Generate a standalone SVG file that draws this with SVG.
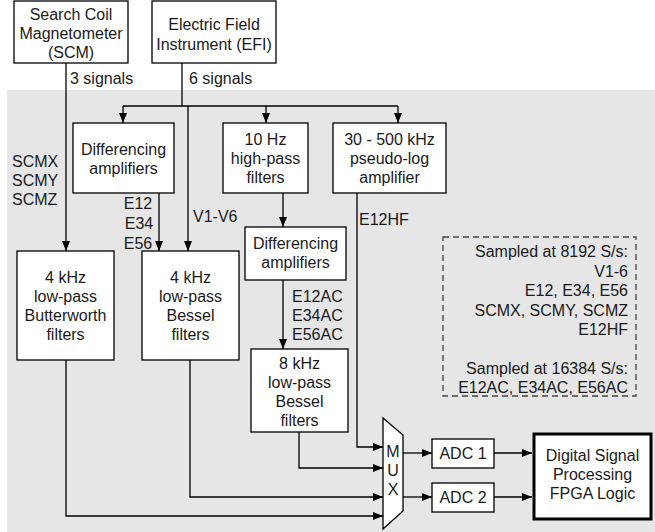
<svg xmlns="http://www.w3.org/2000/svg" width="655" height="532" viewBox="0 0 655 532">
<defs>
<marker id="ah" markerWidth="10" markerHeight="8" refX="10" refY="4" orient="auto" markerUnits="userSpaceOnUse">
<path d="M0,0 L10,4 L0,8 Z" fill="#000"/>
</marker>
<style>
.box{fill:#fff;stroke:#000;stroke-width:1.3}
.t{font-family:"Liberation Sans",Arial,sans-serif;font-size:16px;fill:#1a1a1a}
.c{text-anchor:middle}
.r{text-anchor:end}
.ln{fill:none;stroke:#000;stroke-width:1.3}
.ar{fill:none;stroke:#000;stroke-width:1.3;marker-end:url(#ah)}
</style>
</defs>
<rect x="7" y="90" width="648" height="442" fill="#e6e6e6"/>

<g id="connectors">
<path class="ar" d="M66,63 V251"/>
<path class="ln" d="M182,63 V106"/>
<path class="ln" d="M123,106 H398"/>
<path class="ar" d="M123,106 V123"/>
<path class="ar" d="M266,106 V123"/>
<path class="ar" d="M398,106 V123"/>
<path class="ar" d="M188,106 V251"/>
<path class="ar" d="M159,193 V251"/>
<path class="ar" d="M283,193 V227"/>
<path class="ar" d="M283,280 V349"/>
<path class="ar" d="M357,193 V447 H383"/>
<path class="ar" d="M299,432 V468 H383"/>
<path class="ar" d="M190,360 V497 H383"/>
<path class="ar" d="M66,360 V516 H383"/>
<path class="ar" d="M403,453 H432"/>
<path class="ar" d="M403,497 H432"/>
<path class="ar" d="M494,453 H532"/>
<path class="ar" d="M494,497 H532"/>
<text class="t" x="70" y="84">3 signals</text>
<text class="t" x="189" y="84">6 signals</text>
<text class="t" x="12" y="167">SCMX</text>
<text class="t" x="12" y="186">SCMY</text>
<text class="t" x="12" y="205">SCMZ</text>
<text class="t c" x="138" y="209">E12</text>
<text class="t c" x="139" y="229">E34</text>
<text class="t c" x="138" y="249">E56</text>
<text class="t" x="193" y="222">V1-V6</text>
<text class="t" x="359" y="225">E12HF</text>
<text class="t" x="292" y="302">E12AC</text>
<text class="t" x="292" y="321">E34AC</text>
<text class="t" x="292" y="340">E56AC</text>
</g>

<g id="scm">
<rect class="box" x="14" y="1" width="114" height="62"/>
<text class="t c" x="71" y="20">Search Coil</text>
<text class="t c" x="71" y="39">Magnetometer</text>
<text class="t c" x="71" y="58">(SCM)</text>
</g>
<g id="efi">
<rect class="box" x="152" y="1" width="124" height="62"/>
<text class="t c" x="214" y="30">Electric Field</text>
<text class="t c" x="214" y="50">Instrument (EFI)</text>
</g>
<g id="diff1">
<rect class="box" x="73" y="123" width="101" height="70"/>
<text class="t c" x="123.5" y="155">Differencing</text>
<text class="t c" x="123.5" y="174">amplifiers</text>
</g>
<g id="hp10">
<rect class="box" x="223" y="123" width="85" height="70"/>
<text class="t c" x="265.5" y="145">10 Hz</text>
<text class="t c" x="265.5" y="164">high-pass</text>
<text class="t c" x="265.5" y="183">filters</text>
</g>
<g id="plog">
<rect class="box" x="333" y="123" width="113" height="70"/>
<text class="t c" x="389.5" y="145">30 - 500 kHz</text>
<text class="t c" x="389.5" y="164">pseudo-log</text>
<text class="t c" x="389.5" y="183">amplifier</text>
</g>
<g id="butter">
<rect class="box" x="17" y="251" width="97" height="109"/>
<text class="t c" x="65.5" y="283">4 kHz</text>
<text class="t c" x="65.5" y="302">low-pass</text>
<text class="t c" x="65.5" y="321">Butterworth</text>
<text class="t c" x="65.5" y="340">filters</text>
</g>
<g id="bessel4">
<rect class="box" x="142" y="251" width="97" height="109"/>
<text class="t c" x="190.5" y="283">4 kHz</text>
<text class="t c" x="190.5" y="302">low-pass</text>
<text class="t c" x="190.5" y="321">Bessel</text>
<text class="t c" x="190.5" y="340">filters</text>
</g>
<g id="diff2">
<rect class="box" x="245" y="227" width="101" height="53"/>
<text class="t c" x="295.5" y="249">Differencing</text>
<text class="t c" x="295.5" y="268">amplifiers</text>
</g>
<g id="bessel8">
<rect class="box" x="251" y="349" width="97" height="83"/>
<text class="t c" x="299.5" y="369">8 kHz</text>
<text class="t c" x="299.5" y="388">low-pass</text>
<text class="t c" x="299.5" y="407">Bessel</text>
<text class="t c" x="299.5" y="426">filters</text>
</g>
<g id="mux">
<path class="box" d="M383,418 L403,435 L403,511 L383,529 Z"/>
<text class="t c" x="393" y="457">M</text>
<text class="t c" x="393" y="476">U</text>
<text class="t c" x="393" y="495">X</text>
</g>
<g id="adc1">
<rect class="box" x="432" y="439" width="62" height="29"/>
<text class="t c" x="463" y="459">ADC 1</text>
</g>
<g id="adc2">
<rect class="box" x="432" y="483" width="62" height="29"/>
<text class="t c" x="463" y="503">ADC 2</text>
</g>
<g id="dsp">
<rect x="534" y="434" width="117" height="85" fill="#fff" stroke="#000" stroke-width="3"/>
<text class="t c" x="592.5" y="461">Digital Signal</text>
<text class="t c" x="592.5" y="480">Processing</text>
<text class="t c" x="592.5" y="499">FPGA Logic</text>
</g>
<g id="legend">
<rect x="443" y="237" width="193" height="159" fill="none" stroke="#444" stroke-width="1.3" stroke-dasharray="6,4"/>
<text class="t r" x="628" y="257">Sampled at 8192 S/s:</text>
<text class="t r" x="628" y="277">V1-6</text>
<text class="t r" x="628" y="296">E12, E34, E56</text>
<text class="t r" x="628" y="316">SCMX, SCMY, SCMZ</text>
<text class="t r" x="628" y="335">E12HF</text>
<text class="t r" x="628" y="374">Sampled at 16384 S/s:</text>
<text class="t r" x="628" y="393">E12AC, E34AC, E56AC</text>
</g>
</svg>
